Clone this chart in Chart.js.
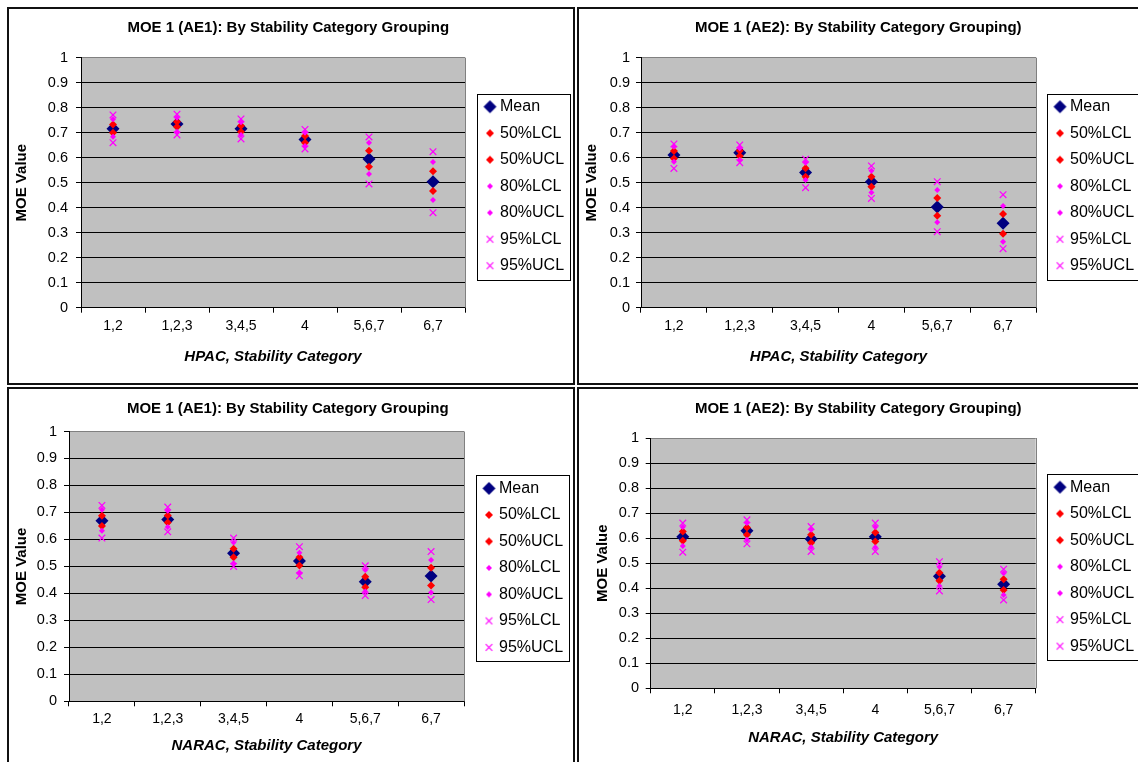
<!DOCTYPE html>
<html>
<head>
<meta charset="utf-8">
<script src="https://cdn.jsdelivr.net/npm/chart.js@4/dist/chart.umd.min.js"></script>
<style>
  body { margin: 0; background: #fff; width: 1138px; height: 762px; overflow: hidden; position: relative; }
  .frame { position: absolute; border: 2px solid #111; box-sizing: border-box; }
  canvas { position: absolute; }
</style>
</head>
<body>
<div class="frame" style="left:7px;top:7px;width:568px;height:378px"></div>
<div class="frame" style="left:577px;top:7px;width:580px;height:378px"></div>
<div class="frame" style="left:7px;top:387px;width:568px;height:390px"></div>
<div class="frame" style="left:577px;top:387px;width:580px;height:390px"></div>

<canvas id="hpacAE1" width="564" height="374" style="left:9px;top:9px"></canvas>
<canvas id="hpacAE2" width="559" height="374" style="left:579px;top:9px"></canvas>
<canvas id="naracAE1" width="564" height="373" style="left:9px;top:389px"></canvas>
<canvas id="naracAE2" width="559" height="373" style="left:579px;top:389px"></canvas>

<script>
const categories = ['1,2', '1,2,3', '3,4,5', '4', '5,6,7', '6,7'];
const seriesNames = ['Mean', '50%LCL', '50%UCL', '80%LCL', '80%UCL', '95%LCL', '95%UCL'];
const yTickValues = [0, 0.1, 0.2, 0.3, 0.4, 0.5, 0.6, 0.7, 0.8, 0.9, 1];

// HPAC, AE1
const hpacAE1Mean = [0.716, 0.735, 0.716, 0.673, 0.595, 0.504];
const hpacAE1L50  = [0.700, 0.724, 0.704, 0.660, 0.564, 0.467];
const hpacAE1U50  = [0.733, 0.744, 0.728, 0.687, 0.628, 0.546];
const hpacAE1L80  = [0.684, 0.704, 0.691, 0.647, 0.535, 0.431];
const hpacAE1U80  = [0.754, 0.760, 0.742, 0.700, 0.660, 0.583];
const hpacAE1L95  = [0.660, 0.691, 0.675, 0.635, 0.495, 0.380];
const hpacAE1U95  = [0.771, 0.774, 0.755, 0.713, 0.683, 0.624];

// HPAC, AE2
const hpacAE2Mean = [0.611, 0.620, 0.541, 0.504, 0.403, 0.338];
const hpacAE2L50  = [0.597, 0.607, 0.524, 0.484, 0.368, 0.296];
const hpacAE2U50  = [0.627, 0.628, 0.558, 0.524, 0.439, 0.375];
const hpacAE2L80  = [0.584, 0.591, 0.511, 0.461, 0.342, 0.264];
const hpacAE2U80  = [0.644, 0.638, 0.580, 0.548, 0.471, 0.407];
const hpacAE2L95  = [0.557, 0.580, 0.480, 0.437, 0.304, 0.236];
const hpacAE2U95  = [0.655, 0.651, 0.594, 0.567, 0.504, 0.452];

// NARAC, AE1
const naracAE1Mean = [0.669, 0.674, 0.549, 0.520, 0.443, 0.464];
const naracAE1L50  = [0.650, 0.663, 0.534, 0.503, 0.423, 0.429];
const naracAE1U50  = [0.688, 0.689, 0.565, 0.534, 0.462, 0.495];
const naracAE1L80  = [0.632, 0.646, 0.512, 0.477, 0.407, 0.403];
const naracAE1U80  = [0.710, 0.706, 0.589, 0.551, 0.487, 0.524];
const naracAE1L95  = [0.605, 0.628, 0.500, 0.465, 0.392, 0.377];
const naracAE1U95  = [0.726, 0.720, 0.605, 0.573, 0.502, 0.555];

// NARAC, AE2
const naracAE2Mean = [0.605, 0.629, 0.596, 0.605, 0.448, 0.416];
const naracAE2L50  = [0.589, 0.613, 0.582, 0.586, 0.430, 0.393];
const naracAE2U50  = [0.626, 0.642, 0.613, 0.622, 0.462, 0.436];
const naracAE2L80  = [0.569, 0.593, 0.564, 0.564, 0.409, 0.373];
const naracAE2U80  = [0.644, 0.660, 0.633, 0.644, 0.486, 0.460];
const naracAE2L95  = [0.544, 0.577, 0.547, 0.547, 0.389, 0.353];
const naracAE2U95  = [0.660, 0.673, 0.646, 0.660, 0.506, 0.476];

const FONT = "'Liberation Sans', Arial, sans-serif";
Chart.defaults.font.family = FONT;
Chart.defaults.color = '#000';

const NAVY = '#000080', RED = '#FF0000', MAGENTA = '#FF00FF';

// marker look for each series (same order as seriesNames)
const seriesStyles = [
  { style: 'rectRot',  radius: 6.5, color: NAVY,    border: 0 },
  { style: 'rectRot',  radius: 4,   color: RED,     border: 0 },
  { style: 'rectRot',  radius: 4,   color: RED,     border: 0 },
  { style: 'rectRot',  radius: 3,   color: MAGENTA, border: 0 },
  { style: 'rectRot',  radius: 3,   color: MAGENTA, border: 0 },
  { style: 'crossRot', radius: 4.7, color: MAGENTA, border: 1.2 },
  { style: 'crossRot', radius: 4.7, color: MAGENTA, border: 1.2 }
];

// small legend markers so that sizes differ like in the original
function legendMarker(st) {
  const half = st.style === 'crossRot' ? 3.3 : st.radius;
  const size = Math.ceil(half * 2 + 2);
  const c = document.createElement('canvas');
  c.width = size; c.height = size;
  const g = c.getContext('2d');
  const m = size / 2;
  if (st.style === 'crossRot') {
    g.strokeStyle = st.color;
    g.lineWidth = 1.2;
    g.beginPath();
    g.moveTo(m - half, m - half); g.lineTo(m + half, m + half);
    g.moveTo(m + half, m - half); g.lineTo(m - half, m + half);
    g.stroke();
  } else {
    g.fillStyle = st.color;
    g.beginPath();
    g.moveTo(m - half, m); g.lineTo(m, m - half); g.lineTo(m + half, m); g.lineTo(m, m + half);
    g.closePath();
    g.fill();
  }
  return c;
}
const legendMarkers = seriesStyles.map(legendMarker);

const plotFrame = {
  id: 'plotFrame',
  afterLayout(chart, args, opts) {
    // nudge the legend block down a little, as in the original
    const lg = chart.legend;
    if (lg && opts.legendDy) {
      lg.top += opts.legendDy;
      lg.bottom += opts.legendDy;
    }
  },
  beforeDraw(chart) {
    const a = chart.chartArea, ctx = chart.ctx;
    ctx.save();
    ctx.fillStyle = '#C0C0C0';
    ctx.fillRect(a.left, a.top, a.right - a.left, a.bottom - a.top);
    ctx.restore();
  },
  beforeDatasetsDraw(chart) {
    const a = chart.chartArea, ctx = chart.ctx;
    ctx.save();
    ctx.strokeStyle = '#808080';
    ctx.lineWidth = 1;
    ctx.beginPath();
    ctx.moveTo(Math.round(a.right) + 0.5, a.top);
    ctx.lineTo(Math.round(a.right) + 0.5, a.bottom);
    ctx.stroke();
    ctx.restore();
  },
  afterDraw(chart) {
    const hb = chart.legend.legendHitBoxes;
    if (!hb || !hb.length) return;
    const ctx = chart.ctx;
    const last = hb[hb.length - 1];
    const left = Math.round(hb[0].left - 11) + 0.5;
    const top = Math.round(hb[0].top - 5) + 0.5;
    const bottom = Math.round(last.top + last.height + 6) + 0.5;
    ctx.save();
    ctx.strokeStyle = '#000';
    ctx.lineWidth = 1;
    ctx.strokeRect(left, top, 93, bottom - top);
    ctx.restore();
  }
};

function makeChart(id, title, xTitle, series, L) {
  const datasets = series.map((values, i) => {
    const st = seriesStyles[i];
    return {
      label: seriesNames[i],
      data: values,
      showLine: false,
      pointStyle: st.style,
      pointRadius: st.radius,
      pointHoverRadius: st.radius,
      pointBackgroundColor: st.color,
      pointBorderColor: st.color,
      pointBorderWidth: st.border,
      backgroundColor: st.color,
      borderColor: st.color,
      order: series.length - i
    };
  });

  return new Chart(document.getElementById(id), {
    type: 'line',
    data: { labels: categories, datasets },
    plugins: [plotFrame],
    options: {
      responsive: false,
      animation: false,
      events: [],
      layout: { padding: { left: 0, top: 0, right: L.padR, bottom: 0 } },
      plugins: {
        plotFrame: { legendDy: L.legendDy },
        title: {
          display: true,
          text: title,
          color: '#000',
          font: { size: 15, weight: 'bold' },
          padding: { top: L.titleTop, bottom: L.titleBottom }
        },
        legend: {
          position: 'right',
          fullSize: false,
          maxWidth: 90,
          labels: {
            usePointStyle: true,
            boxWidth: 4,
            boxHeight: 8,
            padding: 10.5,
            color: '#000',
            font: { size: 16 },
            sort: (a, b) => a.datasetIndex - b.datasetIndex,
            generateLabels: chart =>
              Chart.defaults.plugins.legend.labels.generateLabels(chart).map(item =>
                Object.assign(item, { pointStyle: legendMarkers[item.datasetIndex], rotation: 0 }))
          }
        },
        tooltip: { enabled: false }
      },
      scales: {
        x: {
          type: 'category',
          offset: true,
          grid: { offset: true, drawOnChartArea: false, tickLength: 5, color: '#000', tickColor: '#000' },
          border: { color: '#000' },
          ticks: { color: '#000', font: { size: 14 }, padding: L.xTickPad, maxRotation: 0, autoSkip: false },
          title: {
            display: true,
            text: xTitle,
            color: '#000',
            font: { size: 15, weight: 'bold', style: 'italic' },
            padding: { top: 0, bottom: L.xTitleBottom }
          },
          afterFit: s => { s.height = L.xHeight; }
        },
        y: {
          min: 0,
          max: 1,
          afterBuildTicks: s => { s.ticks = yTickValues.map(v => ({ value: v })); },
          grid: {
            color: c => (c.tick && c.tick.value === 1 ? '#808080' : '#000'),
            tickColor: '#000',
            tickLength: 5
          },
          border: { color: '#000' },
          ticks: { color: '#000', font: { size: 14.5 }, padding: L.yTickPad, callback: v => String(v) },
          title: {
            display: true,
            text: 'MOE Value',
            color: '#000',
            font: { size: 15, weight: 'bold' },
            padding: { top: L.yTitlePad, bottom: 0 }
          },
          afterFit: s => { s.width = L.yWidth; }
        },
        gap: {
          type: 'linear',
          axis: 'y',
          position: 'right',
          display: true,
          grid: { display: false },
          border: { display: false },
          ticks: { display: false },
          afterFit: s => { s.width = L.gap; }
        }
      }
    }
  });
}

makeChart('hpacAE1', 'MOE 1 (AE1): By Stability Category Grouping', 'HPAC, Stability Category',
  [hpacAE1Mean, hpacAE1L50, hpacAE1U50, hpacAE1L80, hpacAE1U80, hpacAE1L95, hpacAE1U95],
  { padR: 5.5, gap: 12.5, yWidth: 72, yTickPad: 8, yTitlePad: 4, titleTop: 10, titleBottom: 20.7,
    xHeight: 75.3, xTickPad: 4.9, xTitleBottom: 17, legendDy: 3.5 });

makeChart('hpacAE2', 'MOE 1 (AE2): By Stability Category Grouping)', 'HPAC, Stability Category',
  [hpacAE2Mean, hpacAE2L50, hpacAE2U50, hpacAE2L80, hpacAE2U80, hpacAE2L95, hpacAE2U95],
  { padR: 0.5, gap: 11.5, yWidth: 62, yTickPad: 6, yTitlePad: 4, titleTop: 10, titleBottom: 20.7,
    xHeight: 75.3, xTickPad: 4.9, xTitleBottom: 17, legendDy: 3.5 });

makeChart('naracAE1', 'MOE 1 (AE1): By Stability Category Grouping', 'NARAC, Stability Category',
  [naracAE1Mean, naracAE1L50, naracAE1U50, naracAE1L80, naracAE1U80, naracAE1L95, naracAE1U95],
  { padR: 6.5, gap: 12.5, yWidth: 60, yTickPad: 7, yTitlePad: 4, titleTop: 11, titleBottom: 13.5,
    xHeight: 60.7, xTickPad: 4.5, xTitleBottom: 7, legendDy: 1.5 });

makeChart('naracAE2', 'MOE 1 (AE2): By Stability Category Grouping)', 'NARAC, Stability Category',
  [naracAE2Mean, naracAE2L50, naracAE2U50, naracAE2L80, naracAE2U80, naracAE2L95, naracAE2U95],
  { padR: 0.5, gap: 11.8, yWidth: 71.7, yTickPad: 6.7, yTitlePad: 15, titleTop: 11, titleBottom: 20,
    xHeight: 73.7, xTickPad: 8, xTitleBottom: 15, legendDy: 3.5 });
</script>
</body>
</html>
